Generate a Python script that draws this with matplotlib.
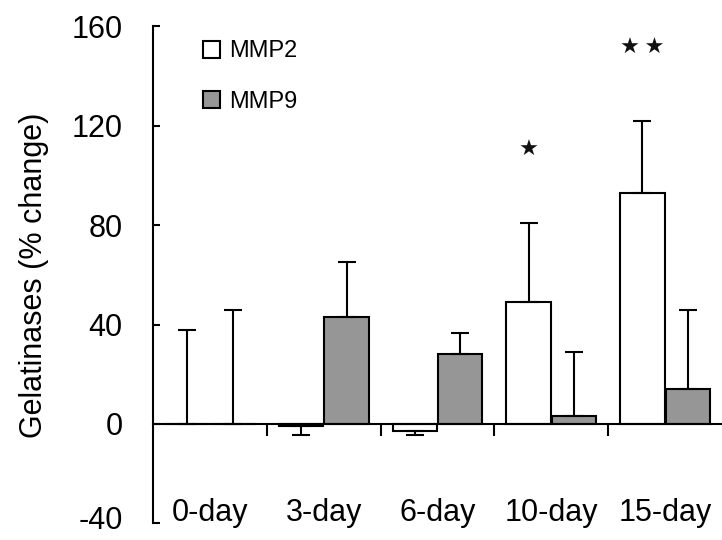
import numpy as np
import matplotlib.pyplot as plt
import matplotlib.transforms as mtransforms
from matplotlib.patches import Patch

plt.rcParams['font.family'] = ['Liberation Sans', 'DejaVu Sans']
plt.rcParams['axes.unicode_minus'] = False

# data
days = ['0-day', '3-day', '6-day', '10-day', '15-day']
mmp2 = [0, -1, -3, 49, 93]
mmp2_err = [38, 3.5, 1.5, 32, 29]
mmp9 = [0, 43, 28, 3, 14]
mmp9_err = [46, 22, 8.5, 26, 32]
stars = ['', '', '', '\u2605', '\u2605\u2009\u2605']

x = np.arange(len(days))
w = 0.39
off = 0.2

fig = plt.figure(figsize=(7.22, 5.40), dpi=100)
ax = fig.add_axes([0.212, 0.031, 0.788, 0.920])


def one_sided(vals, errs):
    vals = np.array(vals, dtype=float)
    errs = np.array(errs, dtype=float)
    lower = np.where(vals < 0, errs, 0)
    upper = np.where(vals < 0, 0, errs)
    return [lower, upper]


ekw = dict(elinewidth=1.5, capthick=1.5, capsize=6.5, ecolor='black')
ax.bar(x - off, mmp2, w, color='white', edgecolor='black', linewidth=1.5,
       yerr=one_sided(mmp2, mmp2_err), error_kw=ekw, zorder=2)
ax.bar(x + off, mmp9, w, color='#969696', edgecolor='black', linewidth=1.5,
       yerr=one_sided(mmp9, mmp9_err), error_kw=ekw, zorder=2)

# significance marks above MMP2 bars
for i, s in enumerate(stars):
    if s:
        ax.text(x[i] - off, mmp2[i] + mmp2_err[i] + 29, s, ha='center',
                va='center', fontsize=16, color='#111111')

ax.set_xlim(-0.5, 4.5)
ax.set_ylim(-40, 160)
ax.set_yticks(np.arange(-40, 161, 40))
ax.tick_params(axis='y', direction='in', length=5, width=1.5, pad=22,
               labelsize=22)

# bottom label sits a bit higher so it is not clipped
lab = ax.get_yticklabels()[0]
lab.set_transform(lab.get_transform() +
                  mtransforms.ScaledTranslation(0, 4 / 72, fig.dpi_scale_trans))

ax.spines['top'].set_visible(False)
ax.spines['right'].set_visible(False)
ax.spines['left'].set_linewidth(1.5)
ax.spines['bottom'].set_linewidth(1.5)
ax.spines['bottom'].set_position(('data', 0))
ax.set_xticks(x[:-1] + 0.5)
ax.set_xticklabels([])
ax.tick_params(axis='x', direction='out', length=8.5, width=1.5)

for i, d in enumerate(days):
    ax.text(x[i], -36, d, ha='center', va='center', fontsize=22)

ax.text(-0.21, 0.5, 'Gelatinases (% change)', rotation=90, ha='center',
        va='center', fontsize=22, transform=ax.transAxes)

handles = [Patch(facecolor='white', edgecolor='black', linewidth=1.5),
           Patch(facecolor='#969696', edgecolor='black', linewidth=1.5)]
ax.legend(handles, ['MMP2', 'MMP9'], loc='upper left',
          bbox_to_anchor=(0.087, 0.972), frameon=False, fontsize=17,
          handlelength=0.72, handleheight=0.72, handletextpad=0.4,
          labelspacing=1.2, borderpad=0, borderaxespad=0)

fig.savefig('out.png', dpi=100)
